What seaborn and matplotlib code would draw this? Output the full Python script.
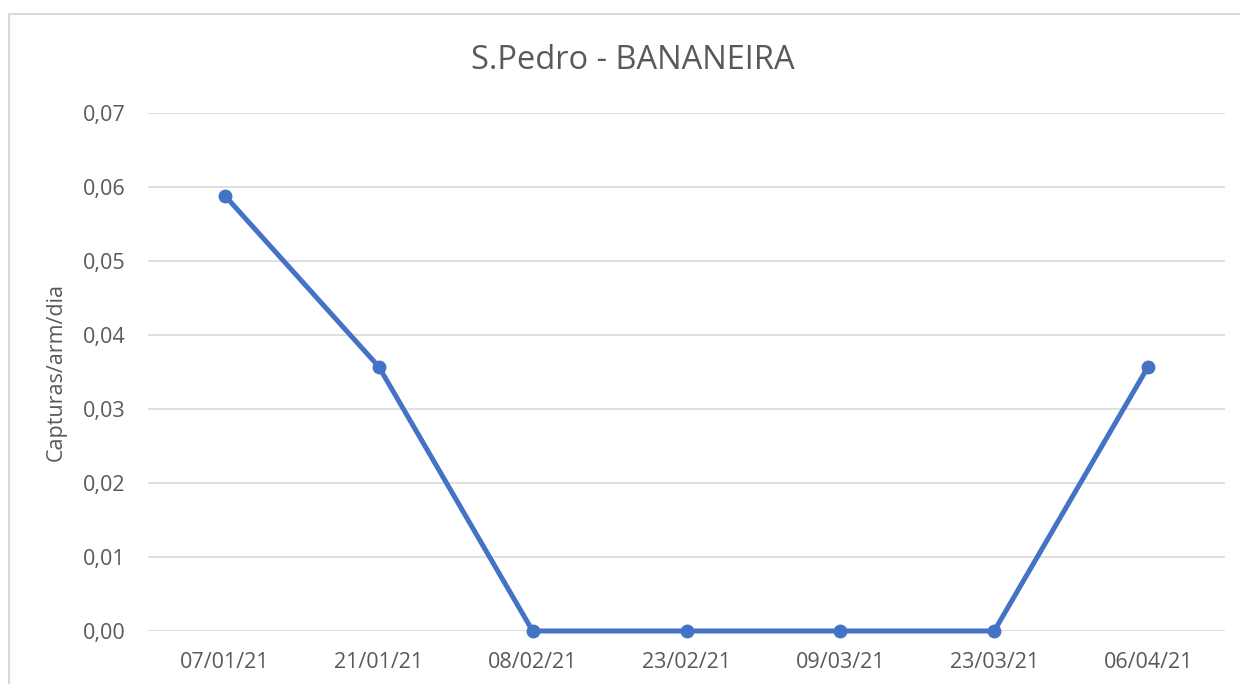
import matplotlib
matplotlib.use("Agg")
import matplotlib.pyplot as plt
import seaborn as sns
import pandas as pd
from matplotlib.patches import Rectangle
from matplotlib.ticker import FuncFormatter

# data
datas = ["07/01/21", "21/01/21", "08/02/21", "23/02/21", "09/03/21", "23/03/21", "06/04/21"]
capturas = [0.0588, 0.0357, 0.0, 0.0, 0.0, 0.0, 0.0357]
yticks = [0.0, 0.01, 0.02, 0.03, 0.04, 0.05, 0.06, 0.07]

sns.set_theme(style="white")
plt.rcParams['font.family'] = ['Open Sans', 'DejaVu Sans']

df = pd.DataFrame({"data": datas, "valor": capturas})
df["pos"] = range(len(df))

txt = "#595959"
fig = plt.figure(figsize=(12.4, 6.84), dpi=100)
ax = fig.add_axes([0.1194, 0.0775, 0.8685, 0.7575])

# chart frame (cropped off at right and bottom)
fig.patches.append(Rectangle((9 / 1240, -0.1), 2, 0.1 + 1 - 14 / 684,
                             transform=fig.transFigure, fill=False,
                             edgecolor="#d9d9d9", linewidth=1.5))

sns.lineplot(data=df, x="pos", y="valor", ax=ax, color="#4472C4", linewidth=3.6,
             marker="o", markersize=10, markeredgewidth=0, zorder=3, clip_on=False)

ax.set_xlim(-0.5, 6.5)
ax.set_ylim(0, 0.07)
ax.set_xticks(range(len(datas)))
ax.set_xticklabels(datas)
ax.set_yticks(yticks)
ax.yaxis.set_major_formatter(FuncFormatter(lambda v, p: f"{v:.2f}".replace(".", ",")))
ax.grid(axis="y", color="#d9d9d9", linewidth=1.2)
ax.set_axisbelow(True)
for s in ax.spines.values():
    s.set_visible(False)
ax.tick_params(axis="both", length=0, labelsize=15.5, colors=txt)
ax.tick_params(axis="x", pad=15)
ax.tick_params(axis="y", pad=16)

ax.set_xlabel("")
ax.set_ylabel("Capturas/arm/dia", fontsize=15.5, color=txt, labelpad=12)
fig.text(0.51, 0.911, "S.Pedro - BANANEIRA", ha="center", va="center", fontsize=23.5, color=txt)

fig.savefig("out.png", dpi=100, facecolor="white")
